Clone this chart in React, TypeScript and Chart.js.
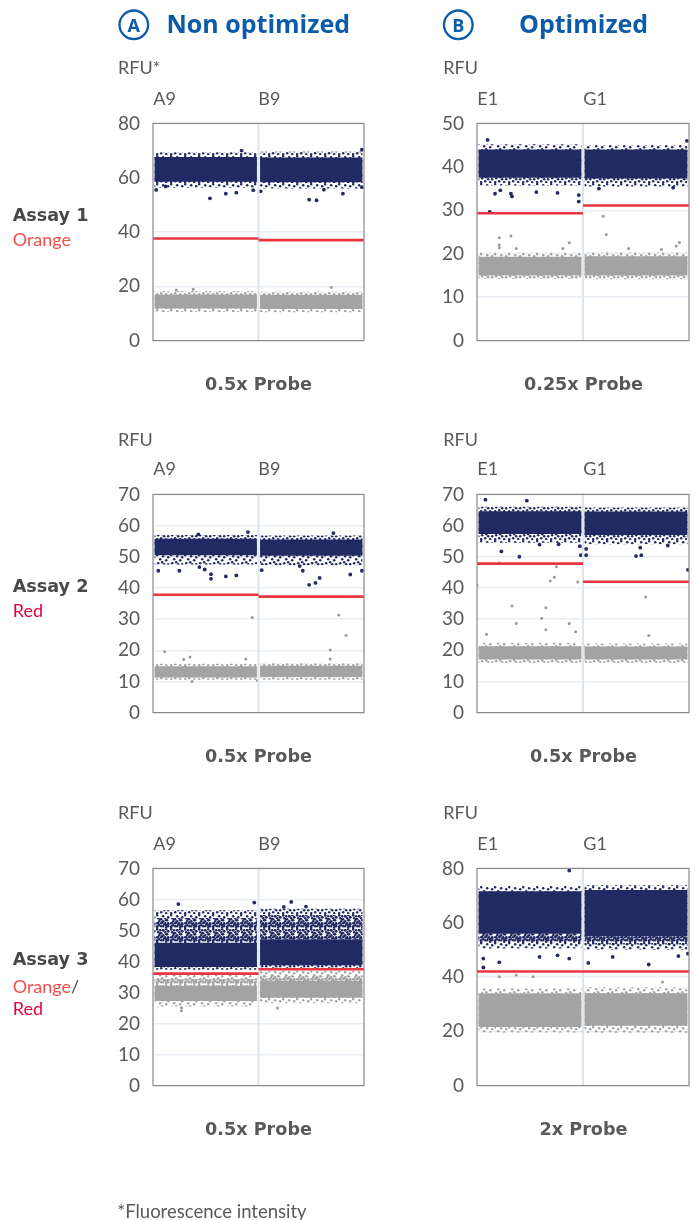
import React, { useEffect, useRef } from "react";
import { Chart, registerables } from "chart.js";

Chart.register(...registerables);

// ---------- data ----------
const WELLS_NON_OPT = ["A9", "B9"];
const WELLS_OPT = ["E1", "G1"];

const COLUMN_TITLES = ["Non optimized", "Optimized"];
const COLUMN_BADGES = ["A", "B"];
const ASSAY_NAMES = ["Assay 1", "Assay 2", "Assay 3"];
const PROBE_LABELS = ["0.5x Probe", "0.25x Probe", "0.5x Probe", "0.5x Probe", "0.5x Probe", "2x Probe"];
const Y_MAX = [80, 50, 70, 70, 70, 80];
const Y_STEP = [20, 10, 10, 10, 10, 20];

// Assay 1 – non optimized (A9, B9)
const A1N_POS_CORE = [[58.5, 67.6], [58.3, 67.4]];
const A1N_POS_SPREAD = [[56.3, 69.4], [56.0, 69.6]];
const A1N_NEG_CORE = [[11.8, 17.0], [11.6, 16.9]];
const A1N_NEG_SPREAD = [[10.5, 18.2], [10.4, 18.0]];
const A1N_THRESHOLD = [37.6, 37.0];
const A1N_POS_OUT = [[0.03, 55.5], [0.12, 56.8], [0.54, 52.4], [0.69, 54.1], [0.79, 54.5], [0.95, 55.4], [0.84, 70.0], [1.02, 55.0], [1.48, 51.9], [1.55, 51.7], [1.8, 54.1], [1.98, 56.5], [1.98, 70.3], [1.62, 55.6]];
const A1N_NEG_OUT = [[1.69, 19.6], [0.38, 18.9], [0.22, 18.6]];

// Assay 1 – optimized (E1, G1)
const A1O_POS_CORE = [[37.5, 44.0], [37.3, 44.0]];
const A1O_POS_SPREAD = [[35.7, 45.2], [35.5, 45.0]];
const A1O_NEG_CORE = [[15.0, 19.3], [15.0, 19.4]];
const A1O_NEG_SPREAD = [[14.2, 20.2], [14.1, 20.3]];
const A1O_THRESHOLD = [29.3, 31.1];
const A1O_POS_OUT = [[0.1, 46.2], [0.17, 33.8], [0.22, 34.6], [0.32, 33.8], [0.33, 33.2], [0.56, 34.2], [0.76, 34.0], [0.96, 33.5], [0.96, 32.0], [0.12, 29.6], [1.15, 35.0], [1.85, 35.2], [1.98, 46.0]];
const A1O_NEG_OUT = [[0.21, 23.7], [0.32, 24.1], [0.21, 22.0], [0.21, 21.4], [0.37, 21.2], [0.87, 22.5], [0.81, 21.2], [1.19, 28.6], [1.22, 24.4], [1.43, 21.2], [1.91, 22.6], [1.88, 21.8], [1.74, 21.0]];

// Assay 2 – non optimized
const A2N_POS_CORE = [[50.5, 55.8], [50.3, 55.5]];
const A2N_POS_SPREAD = [[47.5, 57.0], [47.3, 56.8]];
const A2N_NEG_CORE = [[11.3, 14.9], [11.4, 15.0]];
const A2N_NEG_SPREAD = [[10.5, 15.7], [10.5, 15.8]];
const A2N_THRESHOLD = [37.8, 37.2];
const A2N_POS_OUT = [[0.05, 45.5], [0.25, 45.5], [0.44, 46.7], [0.49, 45.9], [0.55, 44.4], [0.55, 42.9], [0.69, 43.7], [0.79, 44.0], [1.03, 45.7], [1.39, 47.0], [1.42, 45.5], [1.48, 41.0], [1.54, 41.6], [1.58, 43.2], [1.87, 44.3], [1.98, 45.5], [0.9, 57.9], [0.43, 57.2], [1.71, 57.6]];
const A2N_NEG_OUT = [[0.94, 30.5], [0.11, 19.5], [0.35, 17.8], [0.29, 17.0], [0.88, 17.2], [1.76, 31.3], [1.83, 24.7], [1.68, 20.1], [1.68, 17.2], [0.37, 10.0], [0.99, 10.3]];

// Assay 2 – optimized
const A2O_POS_CORE = [[57.3, 64.6], [57.0, 64.5]];
const A2O_POS_SPREAD = [[54.5, 66.0], [54.0, 65.8]];
const A2O_NEG_CORE = [[17.0, 21.3], [17.0, 21.2]];
const A2O_NEG_SPREAD = [[16.0, 22.3], [16.0, 22.2]];
const A2O_THRESHOLD = [47.8, 42.0];
const A2O_POS_OUT = [[0.08, 68.3], [0.47, 68.0], [0.23, 51.7], [0.4, 50.0], [0.59, 53.9], [0.77, 54.0], [0.97, 53.4], [0.98, 50.5], [1.03, 52.5], [1.03, 50.5], [1.5, 50.2], [1.55, 50.5], [1.54, 52.9], [1.8, 53.6], [1.99, 45.8]];
const A2O_NEG_OUT = [[0.0, 40.9], [0.21, 48.1], [0.75, 46.8], [0.73, 43.4], [0.69, 42.2], [0.95, 41.9], [0.33, 34.2], [0.65, 33.6], [0.61, 30.3], [0.37, 28.6], [0.65, 26.6], [0.87, 28.6], [0.93, 25.9], [0.09, 25.1], [1.59, 37.1], [1.62, 24.7]];

// Assay 3 – non optimized
const A3N_POS_CORE = [[38.2, 46.0], [38.8, 47.0]];
const A3N_POS_MID = [[46.0, 54.0], [47.0, 55.0]];
const A3N_POS_SPREAD = [[37.3, 56.5], [37.9, 57.0]];
const A3N_NEG_CORE = [[27.3, 32.2], [28.3, 33.7]];
const A3N_NEG_MID = [[32.2, 34.3], [33.7, 35.4]];
const A3N_NEG_SPREAD = [[25.5, 36.0], [26.5, 37.0]];
const A3N_THRESHOLD = [36.1, 37.5];
const A3N_POS_OUT = [[0.24, 58.5], [0.96, 59.0], [1.31, 59.2], [1.45, 57.7], [1.24, 57.6]];
const A3N_NEG_OUT = [[0.27, 25.1], [0.27, 24.1], [1.18, 25.0]];

// Assay 3 – optimized
const A3O_POS_CORE = [[55.9, 71.6], [55.0, 72.0]];
const A3O_POS_MID = [[52.5, 55.9], [52.0, 55.0]];
const A3O_POS_SPREAD = [[50.5, 73.5], [50.0, 73.8]];
const A3O_NEG_CORE = [[21.6, 33.9], [22.0, 34.0]];
const A3O_NEG_SPREAD = [[19.6, 35.8], [19.5, 36.2]];
const A3O_THRESHOLD = [42.0, 42.0];
const A3O_POS_OUT = [[0.87, 79.2], [0.06, 46.8], [0.06, 43.5], [0.21, 45.4], [0.59, 47.4], [0.87, 46.8], [0.76, 48.0], [1.05, 45.2], [1.28, 47.4], [1.62, 44.6], [1.9, 47.7], [1.99, 48.6]];
const A3O_NEG_OUT = [[0.21, 40.1], [0.37, 40.7], [0.53, 40.1], [1.75, 38.2]];

// ---------- styling / layout ----------
const NAVY = "#212a62";
const GREY = "#a3a3a3";
const THRESH_RED = "#e8353f";
const TITLE_BLUE = "#0b5ba8";
const TEXT_GREY = "#595959";

const COL_LEFT = [100, 424];
const COL_WIDTH = [272, 273];
const ROW_PLOT_TOP = [113, 484, 858];
const ROW_PLOT_BOTTOM = [351, 723, 1096];
const PAD = 14;

const PANELS: any[] = [
  { wells: WELLS_NON_OPT, posCore: A1N_POS_CORE, posSpread: A1N_POS_SPREAD, negCore: A1N_NEG_CORE, negSpread: A1N_NEG_SPREAD, thr: A1N_THRESHOLD, posOut: A1N_POS_OUT, negOut: A1N_NEG_OUT },
  { wells: WELLS_OPT, posCore: A1O_POS_CORE, posSpread: A1O_POS_SPREAD, negCore: A1O_NEG_CORE, negSpread: A1O_NEG_SPREAD, thr: A1O_THRESHOLD, posOut: A1O_POS_OUT, negOut: A1O_NEG_OUT },
  { wells: WELLS_NON_OPT, posCore: A2N_POS_CORE, posSpread: A2N_POS_SPREAD, negCore: A2N_NEG_CORE, negSpread: A2N_NEG_SPREAD, thr: A2N_THRESHOLD, posOut: A2N_POS_OUT, negOut: A2N_NEG_OUT },
  { wells: WELLS_OPT, posCore: A2O_POS_CORE, posSpread: A2O_POS_SPREAD, negCore: A2O_NEG_CORE, negSpread: A2O_NEG_SPREAD, thr: A2O_THRESHOLD, posOut: A2O_POS_OUT, negOut: A2O_NEG_OUT },
  { wells: WELLS_NON_OPT, posCore: A3N_POS_CORE, posMid: A3N_POS_MID, posSpread: A3N_POS_SPREAD, negCore: A3N_NEG_CORE, negMid: A3N_NEG_MID, negSpread: A3N_NEG_SPREAD, thr: A3N_THRESHOLD, posOut: A3N_POS_OUT, negOut: A3N_NEG_OUT },
  { wells: WELLS_OPT, posCore: A3O_POS_CORE, posMid: A3O_POS_MID, posSpread: A3O_POS_SPREAD, negCore: A3O_NEG_CORE, negSpread: A3O_NEG_SPREAD, thr: A3O_THRESHOLD, posOut: A3O_POS_OUT, negOut: A3O_NEG_OUT },
];

// speckle textures for the sparser parts of each droplet cloud (style only)
const SPECKLE_SPARSE = [[0, 0], [6, 1], [11, 2], [3, 4], [9, 5], [5, 7], [1, 8], [7, 9], [11, 9], [4, 11], [9, 12], [0, 12]];
const SPECKLE_DENSE = [[0, 0], [3, 1], [6, 1], [9, 0], [11, 2], [1, 3], [4, 4], [8, 3], [10, 5], [2, 6], [6, 6], [0, 8], [4, 8], [8, 8], [11, 8], [2, 10], [6, 11], [9, 10], [11, 11], [0, 11]];

function specklePattern(ctx: CanvasRenderingContext2D, color: string, dots: number[][]) {
  const c = document.createElement("canvas");
  c.width = 14;
  c.height = 14;
  const g = c.getContext("2d")!;
  g.fillStyle = color;
  dots.forEach(([x, y]) => {
    g.beginPath();
    g.arc(x + 1.2, y + 1.2, 1.25, 0, Math.PI * 2);
    g.fill();
  });
  return ctx.createPattern(c, "repeat");
}

const framePlugin = {
  id: "frame",
  afterDatasetsDraw(chart: any) {
    const { ctx, chartArea: a } = chart;
    ctx.save();
    ctx.strokeStyle = "#8a8a8a";
    ctx.lineWidth = 1.2;
    ctx.strokeRect(a.left, a.top, a.right - a.left, a.bottom - a.top);
    ctx.restore();
  },
};

function Panel({ index }: { index: number }) {
  const ref = useRef<HTMLCanvasElement>(null);
  const p = PANELS[index];
  const col = index % 2;
  const row = Math.floor(index / 2);
  const yMax = Y_MAX[index];
  const top = ROW_PLOT_TOP[row] - PAD;
  const height = ROW_PLOT_BOTTOM[row] - ROW_PLOT_TOP[row] + 2 * PAD;

  useEffect(() => {
    const canvas = ref.current!;
    const ctx = canvas.getContext("2d")!;
    const navySparse = specklePattern(ctx, NAVY, SPECKLE_SPARSE);
    const greySparse = specklePattern(ctx, GREY, SPECKLE_SPARSE);
    const navyDense = specklePattern(ctx, NAVY, SPECKLE_DENSE);
    const greyDense = specklePattern(ctx, GREY, SPECKLE_DENSE);
    const bar = (data: number[][], color: any, order: number) => ({
      type: "bar",
      xAxisID: "x",
      data,
      backgroundColor: color,
      grouped: false,
      barPercentage: 1,
      categoryPercentage: 0.97,
      borderWidth: 0,
      order,
    });
    const pts = (data: number[][], color: string, r: number) => ({
      type: "scatter",
      xAxisID: "x2",
      data: data.map(([x, y]) => ({ x, y })),
      backgroundColor: color,
      borderWidth: 0,
      pointRadius: r,
      order: 4,
    });
    const datasets: any[] = [
      bar(p.posSpread, navySparse, 8),
      bar(p.negSpread, greySparse, 8),
      ...(p.posMid ? [bar(p.posMid, navyDense, 7)] : []),
      ...(p.negMid ? [bar(p.negMid, greyDense, 7)] : []),
      bar(p.posCore, NAVY, 6),
      bar(p.negCore, GREY, 6),
      pts(p.posOut, NAVY, 1.9),
      pts(p.negOut, "#9a9a9a", 1.5),
      {
        type: "line",
        xAxisID: "x2",
        data: [{ x: 1, y: 0 }, { x: 1, y: yMax }],
        borderColor: "#dde5ee",
        borderWidth: 2,
        pointRadius: 0,
        order: 3,
      },
      ...p.thr.map((t: number, i: number) => ({
        type: "line",
        xAxisID: "x2",
        data: [{ x: i, y: t }, { x: i + 1, y: t }],
        borderColor: THRESH_RED,
        borderWidth: 2.6,
        pointRadius: 0,
        order: 2,
      })),
    ];
    const chart = new Chart(canvas, {
      type: "bar",
      data: { labels: p.wells, datasets },
      options: {
        animation: false,
        responsive: true,
        maintainAspectRatio: false,
        events: [],
        layout: { padding: { top: PAD, bottom: PAD, left: 0, right: 8 } },
        plugins: { legend: { display: false }, tooltip: { enabled: false } },
        scales: {
          x: { type: "category", display: false, offset: true },
          x2: { type: "linear", display: false, min: 0, max: 2, offset: false, grid: { offset: false } },
          y: {
            type: "linear",
            min: 0,
            max: yMax,
            afterFit: (s: any) => {
              s.width = 53;
            },
            ticks: { stepSize: Y_STEP[index], padding: 13, color: TEXT_GREY, font: { family: "Lato", size: 19 } },
            grid: { color: "#e9eef4", lineWidth: 1.5, drawTicks: false },
            border: { display: false },
          },
        },
      } as any,
      plugins: [framePlugin],
    } as any);
    return () => chart.destroy();
  }, []);

  return (
    <div style={{ position: "absolute", left: COL_LEFT[col], top, width: COL_WIDTH[col], height }}>
      <canvas ref={ref} />
    </div>
  );
}

const RFU_BASE = [74, 445.5, 819];
const WELL_BASE = [105, 475, 849.5];
const PROBE_BASE = [390, 762, 1135];
const ASSAY_BASE = [220.5, 592.3, 965];
const WELL_X = [[153.3, 258.3], [477.3, 583.3]];
const RFU_X = [118, 443.3];
const PROBE_X = [258.5, 583.5];

export default function App() {
  const lato = "Lato, 'Open Sans', sans-serif";
  const dejaBold = "'DejaVu Sans', sans-serif";
  return (
    <div style={{ position: "absolute", left: 0, top: 0, width: 697, height: 1220, background: "#fff" }}>
      {PANELS.map((_, i) => (
        <Panel key={i} index={i} />
      ))}
      <svg width={697} height={1220} style={{ position: "absolute", left: 0, top: 0, pointerEvents: "none" }}>
        {[133.8, 458.3].map((cx, c) => (
          <g key={"t" + c}>
            <circle cx={cx} cy={24.8} r={14.3} fill="none" stroke={TITLE_BLUE} strokeWidth={2.3} />
            <text x={cx} y={31.6} textAnchor="middle" fontFamily="'Open Sans', sans-serif" fontWeight="bold" fontSize={18} fill={TITLE_BLUE}>
              {COLUMN_BADGES[c]}
            </text>
          </g>
        ))}
        <text x={166.5} y={33.3} fontFamily="'Open Sans', sans-serif" fontWeight="bold" fontSize={25} fill={TITLE_BLUE}>
          {COLUMN_TITLES[0]}
        </text>
        <text x={519} y={33.3} fontFamily="'Open Sans', sans-serif" fontWeight="bold" fontSize={25} fill={TITLE_BLUE}>
          {COLUMN_TITLES[1]}
        </text>

        {[0, 1, 2].map((r) => (
          <g key={"r" + r}>
            {[0, 1].map((c) => (
              <g key={c}>
                <text x={RFU_X[c]} y={RFU_BASE[r]} fontFamily={lato} fontSize={18} fill={TEXT_GREY}>
                  {r === 0 && c === 0 ? "RFU*" : "RFU"}
                </text>
                {(c === 0 ? WELLS_NON_OPT : WELLS_OPT).map((w, k) => (
                  <text key={w} x={WELL_X[c][k]} y={WELL_BASE[r]} fontFamily={lato} fontSize={18} fill={TEXT_GREY}>
                    {w}
                  </text>
                ))}
                <text x={PROBE_X[c]} y={PROBE_BASE[r]} textAnchor="middle" fontFamily={dejaBold} fontWeight="bold" fontSize={17.6} fill={TEXT_GREY}>
                  {PROBE_LABELS[r * 2 + c]}
                </text>
              </g>
            ))}
            <text x={12.7} y={ASSAY_BASE[r]} fontFamily={dejaBold} fontWeight="bold" fontSize={17.6} fill="#484848">
              {ASSAY_NAMES[r]}
            </text>
          </g>
        ))}
        <text x={12.7} y={246} fontFamily={lato} fontSize={18} fill="#f0504a">Orange</text>
        <text x={12.7} y={617.3} fontFamily={lato} fontSize={18} fill="#e5003c">Red</text>
        <text x={12.7} y={992.7} fontFamily={lato} fontSize={18} fill="#f0504a">
          Orange<tspan fill="#484848">/</tspan>
        </text>
        <text x={12.7} y={1015.3} fontFamily={lato} fontSize={18} fill="#e5003c">Red</text>

        <text x={117.3} y={1218} fontFamily={lato} fontSize={18.5} fill={TEXT_GREY}>
          *Fluorescence intensity
        </text>
      </svg>
    </div>
  );
}
